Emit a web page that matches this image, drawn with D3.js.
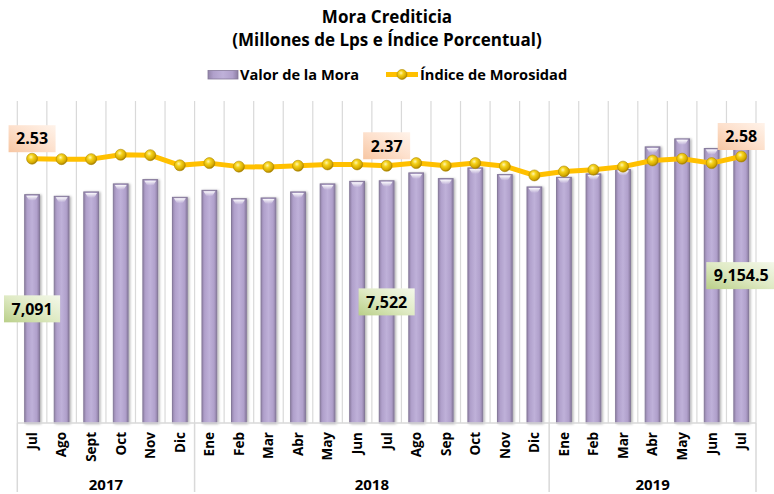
<!DOCTYPE html>
<html><head><meta charset="utf-8">
<script src="https://cdn.jsdelivr.net/npm/d3@7"></script>
<style>
body{margin:0;background:#fff}
svg{display:block}
text{font-family:'Open Sans',Lato,sans-serif;font-weight:700;fill:#000}
</style>
</head><body>
<svg id="c" width="774" height="494"></svg>
<script>
// ---- data ----
const months = ["Jul","Ago","Sept","Oct","Nov","Dic","Ene","Feb","Mar","Abr","May","Jun","Jul","Ago","Sep","Oct","Nov","Dic","Ene","Feb","Mar","Abr","May","Jun","Jul"];
const years = ["2017","2018","2019"];
const yearCounts = [6,12,7];
const mora = [7091,7040,7176,7425,7558,7008,7226,6967,6989,7176,7425,7505,7522,7767,7589,7922,7714,7331,7630,7736,7869,8575,8824,8523,9154.5];
const indice = [2.53,2.52,2.52,2.62,2.61,2.38,2.43,2.35,2.34,2.37,2.40,2.40,2.37,2.43,2.37,2.43,2.36,2.15,2.24,2.28,2.35,2.49,2.53,2.43,2.58];
const moraLabelIdx = [0,12,24];
const moraLabelText = ["7,091","7,522","9,154.5"];
const indiceLabelIdx = [0,12,24];
const indiceLabelText = ["2.53","2.37","2.58"];
const titleLines = ["Mora Crediticia","(Millones de Lps e Índice Porcentual)"];
const legendNames = ["Valor de la Mora","Índice de Morosidad"];

// ---- layout ----
const svg = d3.select("#c");
const L = 17.3, R = 756, T = 101, B = 423;
const idx = d3.range(months.length);
const xo = d3.scaleBand().domain(idx).range([L,R]).padding(0);
const x = d3.scaleBand().domain(idx).range([L,R]).paddingInner(0.5).paddingOuter(0.25);
const y = d3.scaleLinear().domain([0,10000]).range([B,T]);
const y2 = d3.scaleLinear().domain([-3.47,3.84]).range([B,T]);
const cx = i => x(i) + x.bandwidth()/2;

const defs = svg.append("defs");
const bg = defs.append("linearGradient").attr("id","barG").attr("x1",0).attr("x2",1).attr("y1",0).attr("y2",0);
[[0,"#9384aa"],[0.18,"#b0a0cb"],[0.5,"#bfb1d9"],[0.82,"#b0a0cb"],[1,"#8c7da2"]].forEach(s=>bg.append("stop").attr("offset",s[0]).attr("stop-color",s[1]));
const bt = defs.append("linearGradient").attr("id","barTop").attr("x1",0).attr("x2",0).attr("y1",0).attr("y2",1);
[[0,"#ffffff",0.95],[1,"#ffffff",0]].forEach(s=>bt.append("stop").attr("offset",s[0]).attr("stop-color",s[1]).attr("stop-opacity",s[2]));
const mg = defs.append("radialGradient").attr("id","mkG").attr("cx","40%").attr("cy","35%").attr("r","65%");
[[0,"#fff6b0"],[0.35,"#f5d21a"],[0.8,"#d4a800"],[1,"#a07c00"]].forEach(s=>mg.append("stop").attr("offset",s[0]).attr("stop-color",s[1]));
const pg = defs.append("linearGradient").attr("id","peachG").attr("x1",1).attr("x2",0).attr("y1",0).attr("y2",1);
[[0,"#fff3ea"],[0.5,"#fde0cc"],[1,"#f7c6a2"]].forEach(s=>pg.append("stop").attr("offset",s[0]).attr("stop-color",s[1]));
const gg = defs.append("linearGradient").attr("id","greenG").attr("x1",1).attr("x2",0).attr("y1",0).attr("y2",1);
[[0,"#f4f8ea"],[0.5,"#dfeac4"],[1,"#b9cf88"]].forEach(s=>gg.append("stop").attr("offset",s[0]).attr("stop-color",s[1]));
const sh = defs.append("filter").attr("id","shadow").attr("x","-20%").attr("y","-5%").attr("width","160%").attr("height","115%");
sh.append("feDropShadow").attr("dx",1.5).attr("dy",0.5).attr("stdDeviation",1).attr("flood-color","#000").attr("flood-opacity",0.3);

// gridlines
const bounds = idx.map(i=>xo(i)).concat([R]);
svg.append("g").selectAll("line").data(bounds).join("line")
  .attr("x1",d=>d).attr("x2",d=>d).attr("y1",T).attr("y2",B)
  .attr("stroke","#d9d9d9").attr("stroke-width",1.2);

// bars
const bars = svg.append("g");
bars.selectAll("rect.bar").data(mora).join("rect").attr("class","bar")
  .attr("x",(d,i)=>x(i)).attr("width",x.bandwidth())
  .attr("y",d=>y(d)).attr("height",d=>B-y(d))
  .attr("fill","url(#barG)").attr("stroke","#85799a").attr("stroke-width",1)
  .attr("filter","url(#shadow)");
bars.selectAll("path.hl").data(mora).join("path").attr("class","hl")
  .attr("d",(d,i)=>{const x0=x(i)+1.5,w=x.bandwidth()-3,t=y(d)+1;return `M${x0},${t}L${x0+w},${t}L${x0+w-3},${t+5}L${x0+3},${t+5}Z`;})
  .attr("fill","url(#barTop)");

// x axis
svg.append("line").attr("x1",L).attr("x2",R).attr("y1",B).attr("y2",B).attr("stroke","#d9d9d9").attr("stroke-width",1.5);
let acc=0; const yb=[L];
yearCounts.forEach(c=>{acc+=c; yb.push(acc<months.length?xo(acc):R);});
svg.append("g").selectAll("line").data(yb).join("line")
  .attr("x1",d=>d).attr("x2",d=>d).attr("y1",B).attr("y2",492)
  .attr("stroke","#d9d9d9").attr("stroke-width",1.5);
svg.append("g").selectAll("text").data(months).join("text")
  .attr("transform",(d,i)=>`translate(${cx(i)},432) rotate(-90)`)
  .attr("text-anchor","end").attr("dy","0.36em").attr("font-size",13.5).text(d=>d);
svg.append("g").selectAll("text").data(years).join("text")
  .attr("x",(d,k)=>(yb[k]+yb[k+1])/2).attr("y",489.5)
  .attr("text-anchor","middle").attr("font-size",15).text(d=>d);

// line
const line = d3.line().x((d,i)=>cx(i)).y(d=>y2(d));
svg.append("path").datum(indice).attr("d",line).attr("fill","none")
  .attr("stroke","#ffc000").attr("stroke-width",5).attr("stroke-linejoin","round");
svg.append("g").selectAll("circle").data(indice).join("circle")
  .attr("cx",(d,i)=>cx(i)).attr("cy",d=>y2(d)).attr("r",5.5)
  .attr("fill","url(#mkG)").attr("stroke","#b08a00").attr("stroke-width",0.6);

// labels
function boxLabel(g, cxp, cyp, txt, fill){
  const t = g.append("text").attr("x",cxp).attr("y",cyp).attr("dy","0.36em")
    .attr("text-anchor","middle").attr("font-size",16).text(txt);
  const w = t.node().getComputedTextLength()+15, h=27;
  g.insert("rect","text").attr("x",cxp-w/2).attr("y",cyp-h/2).attr("width",w).attr("height",h).attr("fill",fill);
}
moraLabelIdx.forEach((i,k)=>boxLabel(svg.append("g"), cx(i), y(mora[i]/2), moraLabelText[k], "url(#greenG)"));
indiceLabelIdx.forEach((i,k)=>boxLabel(svg.append("g"), cx(i), y2(indice[i])-20, indiceLabelText[k], "url(#peachG)"));

// title
svg.append("g").selectAll("text").data(titleLines).join("text")
  .attr("x",387).attr("y",(d,i)=>23+i*23).attr("text-anchor","middle").attr("font-size",17).text(d=>d);

// legend
const lg = svg.append("g");
lg.append("rect").attr("x",208).attr("y",70.5).attr("width",30).attr("height",8.5).attr("fill","url(#barG)").attr("stroke","#85799a").attr("stroke-width",0.8);
lg.append("text").attr("x",240).attr("y",79.5).attr("font-size",14.6).text(legendNames[0]);
lg.append("line").attr("x1",386).attr("x2",418).attr("y1",74.5).attr("y2",74.5).attr("stroke","#ffc000").attr("stroke-width",5);
lg.append("circle").attr("cx",402).attr("cy",74.5).attr("r",5).attr("fill","url(#mkG)").attr("stroke","#b08a00").attr("stroke-width",0.6);
lg.append("text").attr("x",420).attr("y",79.5).attr("font-size",14.6).text(legendNames[1]);
</script>
</body></html>
